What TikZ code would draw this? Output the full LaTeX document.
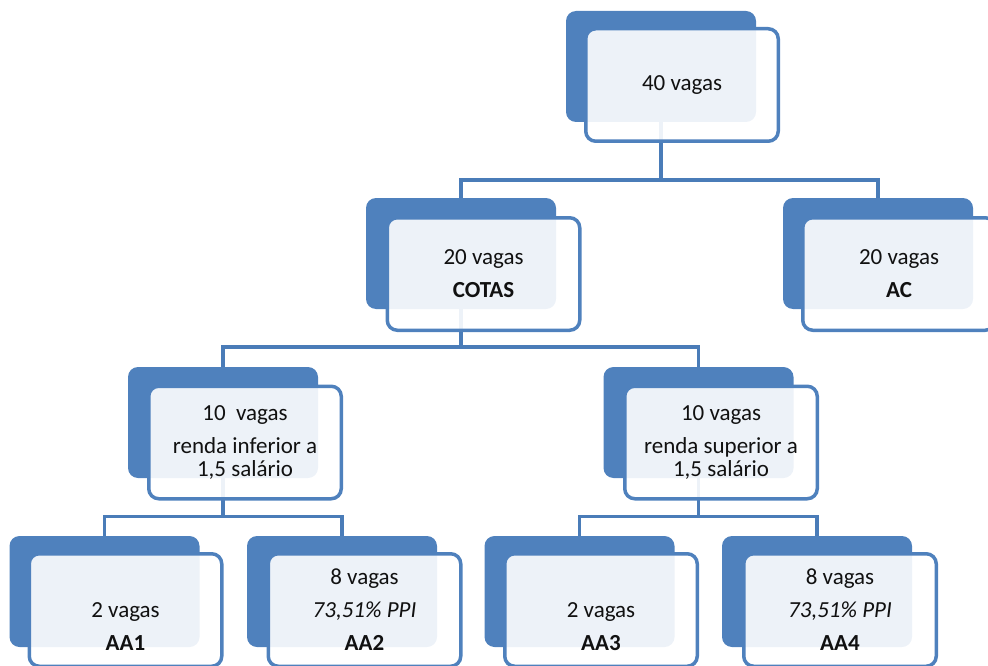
\documentclass[tikz,border=0pt]{standalone}
\usepackage{fontspec}
\setmainfont{Carlito}
\definecolor{backblue}{HTML}{4F81BD}
\definecolor{linkblue}{HTML}{4A7CB8}
\definecolor{txt}{HTML}{111111}
\pgfdeclarelayer{bg}
\pgfsetlayers{bg,main}
\begin{document}
\begin{tikzpicture}[x=1pt,y=-1pt,
  backbox/.style={rounded corners=10pt, fill=backblue, draw=none, minimum width=190pt, minimum height=111pt, inner sep=0pt},
  frontbox/.style={rounded corners=10pt, draw=backblue, line width=3.5pt, fill=white, fill opacity=0.9, text opacity=1, minimum width=192.5pt, minimum height=112.5pt, inner sep=0pt, align=center, text=txt, font=\fontsize{23}{23}\selectfont},
  link/.style={draw=linkblue, line width=3.5pt}]
\clip (0,0) rectangle (988,666);
% back boxes
\node[backbox] (b0) at (661,66.5) {};
\node[backbox] (b1) at (461,253.5) {};
\node[backbox] (b2) at (878,253.5) {};
\node[backbox] (b3) at (223,422.5) {};
\node[backbox] (b4) at (698.5,422.5) {};
\node[backbox] (b5) at (104.5,591.5) {};
\node[backbox] (b6) at (342,591.5) {};
\node[backbox] (b7) at (579.5,591.5) {};
\node[backbox] (b8) at (817,591.5) {};
% front boxes
\node[frontbox] (f0) at (682,85) {40 vagas};
\node[frontbox] (f1) at (483.5,274) {20 vagas\\[10pt]\textbf{COTAS}};
\node[frontbox] (f2) at (899,274) {20 vagas\\[10pt]\textbf{AC}};
\node[frontbox] (f3) at (245,442.5) {10\ \ vagas\\[10pt]renda inferior a\\1,5 salário};
\node[frontbox] (f4) at (721,442.5) {10 vagas\\[10pt]renda superior a\\1,5 salário};
\node[frontbox] (f5) at (125.5,610) {\vphantom{8 vagas}\\[10pt]2 vagas\\[10pt]\textbf{AA1}};
\node[frontbox] (f6) at (364.5,610) {8 vagas\\[10pt]\textit{73,51\% PPI}\\[10pt]\textbf{AA2}};
\node[frontbox] (f7) at (601,610) {\vphantom{8 vagas}\\[10pt]2 vagas\\[10pt]\textbf{AA3}};
\node[frontbox] (f8) at (840,610) {8 vagas\\[10pt]\textit{73,51\% PPI}\\[10pt]\textbf{AA4}};
% junction levels
\coordinate (j0) at (0,180);
\coordinate (j1) at (0,347);
\coordinate (j2) at (0,516.5);
\begin{pgfonlayer}{bg}
\draw[link] (b0.south) -- (b0.south |- j0) -| (b1.north);
\draw[link] (b0.south |- j0) -| (b2.north);
\draw[link] (b1.south) -- (b1.south |- j1) -| (b3.north);
\draw[link] (b1.south |- j1) -| (b4.north);
\draw[link] (b3.south) -- (b3.south |- j2) -| (b5.north);
\draw[link] (b3.south |- j2) -| (b6.north);
\draw[link] (b4.south) -- (b4.south |- j2) -| (b7.north);
\draw[link] (b4.south |- j2) -| (b8.north);
\end{pgfonlayer}
\end{tikzpicture}
\end{document}
